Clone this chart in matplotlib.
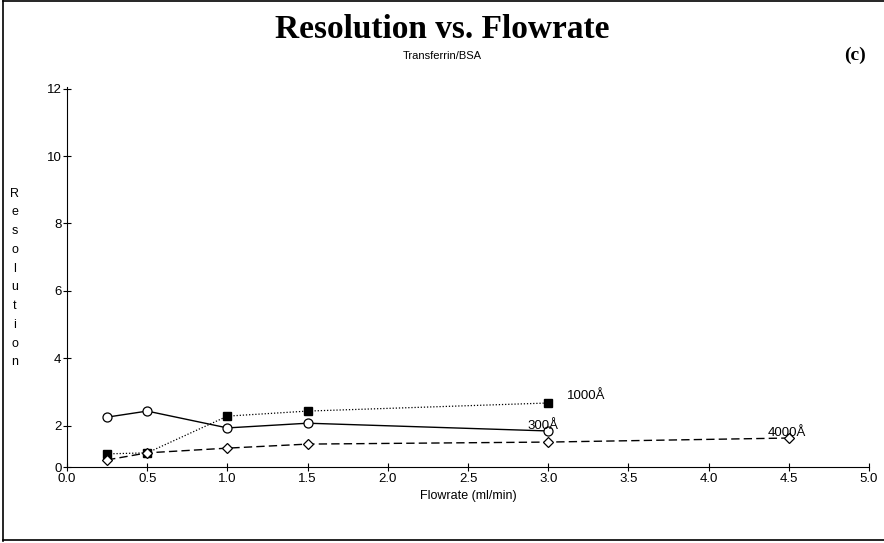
import matplotlib.pyplot as plt
from matplotlib.lines import Line2D

# flowrate (ml/min)
flow_300 = [0.25, 0.5, 1.0, 1.5, 3.0]
res_300 = [2.25, 2.43, 1.93, 2.07, 1.84]

flow_1000 = [0.25, 0.5, 1.0, 1.5, 3.0]
res_1000 = [1.16, 1.19, 2.28, 2.43, 2.67]

flow_4000 = [0.25, 0.5, 1.0, 1.5, 3.0, 4.5]
res_4000 = [0.98, 1.19, 1.33, 1.45, 1.51, 1.63]

x_ticks = [0.0, 0.5, 1.0, 1.5, 2.0, 2.5, 3.0, 3.5, 4.0, 4.5, 5.0]
y_ticks = [2, 4, 6, 8, 10, 12]
y_bottom = 0.77  # axis starts here, labelled "0" in the original

sans = 'Liberation Sans'
serif = 'Liberation Serif'

fig = plt.figure(figsize=(8.84, 5.43), dpi=100)
ax = fig.add_axes([67 / 884, 1 - 467 / 543, (869 - 67) / 884, (467 - 87) / 543])

ax.plot(flow_300, res_300, color='black', lw=1.0, ls='-',
        marker='o', ms=6.5, mfc='white', mec='black', mew=0.9)
ax.plot(flow_1000, res_1000, color='black', lw=0.9, ls=(0, (1, 1.5)),
        marker='s', ms=6, mfc='black', mec='black')
ax.plot(flow_4000, res_4000, color='black', lw=1.0, ls=(0, (6, 3)),
        marker='D', ms=5.5, mfc='white', mec='black', mew=0.9)

ax.text(3.12, res_1000[-1] + 0.12, '1000Å', fontsize=9.5, family=sans)
ax.text(2.87, res_300[-1] + 0.05, '300Å', fontsize=9.5, family=sans)
ax.text(4.37, res_4000[-1] + 0.06, '4000Å', fontsize=9.5, family=sans)

ax.set_xlim(0, 5)
ax.set_ylim(y_bottom, 12.05)
ax.set_xticks(x_ticks)
ax.set_xticklabels([f'{v:.1f}' for v in x_ticks], fontsize=9.5, family=sans)
ax.set_yticks([y_bottom] + y_ticks)
ax.set_yticklabels(['0'] + [str(v) for v in y_ticks], fontsize=9.5, family=sans)
ax.tick_params(direction='inout', length=6, width=0.8, pad=1)
ax.spines['top'].set_visible(False)
ax.spines['right'].set_visible(False)
ax.set_xlabel('Flowrate (ml/min)', fontsize=9, family=sans, labelpad=4)

# vertical stacked y label
fig.text(15 / 884, 1 - 278 / 543, '\n'.join('Resolution'), fontsize=9,
         family=sans, ha='center', va='center', linespacing=1.75)

fig.text(442 / 884, 1 - 30 / 543, 'Resolution vs. Flowrate', fontsize=24,
         family=serif, weight='bold', ha='center', va='center')
fig.text(442 / 884, 1 - 56 / 543, 'Transferrin/BSA', fontsize=8,
         family=sans, ha='center', va='center')
fig.text(855 / 884, 1 - 55 / 543, '(c)', fontsize=14,
         family=serif, weight='bold', ha='center', va='center')

# frame around the whole figure (left, top, bottom)
for xs, ys in [([3 / 884, 3 / 884], [2 / 543, 1 - 1 / 543]),
               ([3 / 884, 1], [1 - 1 / 543, 1 - 1 / 543]),
               ([3 / 884, 1], [3 / 543, 3 / 543])]:
    fig.add_artist(Line2D(xs, ys, color='black', lw=1.2))

fig.savefig('out.png', dpi=100)
